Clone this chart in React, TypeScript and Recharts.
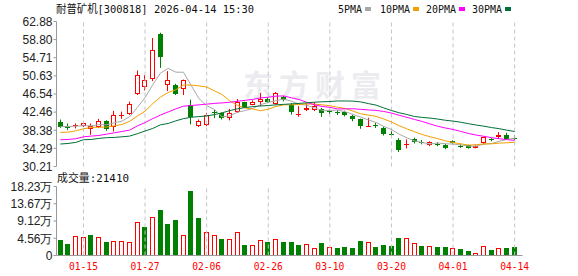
import React from 'react';
import { ComposedChart, Bar, Line, XAxis, YAxis, CartesianGrid, ReferenceLine } from 'recharts';

const dates = ['01-12','01-13','01-14','01-15','01-16','01-19','01-20','01-21','01-22','01-23','01-26','01-27','01-28','01-29','01-30','02-02','02-03','02-04','02-05','02-06','02-09','02-10','02-11','02-12','02-13','02-24','02-25','02-26','02-27','03-02','03-03','03-04','03-05','03-06','03-09','03-10','03-11','03-12','03-13','03-16','03-17','03-18','03-19','03-20','03-23','03-24','03-25','03-26','03-27','03-30','03-31','04-01','04-02','04-03','04-07','04-08','04-09','04-10','04-13','04-14'];

const opens = [40.34,39.3,39.3,39.3,38.55,39.15,40.49,39.0,41.54,41.99, 46.46,48.10,49.82,60.04,48.55,48.48,47.66,44.0,39.3,39.53, 42.5,42.29,41.17,42.51,44.67,44.15,44.75,45.5,44.3,45.87, 44.16,41.9,42.89,42.89,43.19,42.7,42.5,42.52,41.55,40.8, 39.2,39.5,38.94,37.5,36.1,35.1,36.47,35.8,35.13,35.3, 35.13,35.9,34.9,34.98,34.4,35.58,36.3,36.85,37.22,36.55];
const highs = [40.79,39.9,39.9,40.27,39.9,40.94,40.64,42.73,42.58,44.82, 51.84,50.79,59.15,60.34,51.69,48.85,49.8,45.27,40.8,42.3, 43.0,42.4,43.2,45.4,44.8,45.1,46.76,45.8,47.0,46.1, 44.5,43.8,44.5,44.68,43.4,43.0,42.8,42.8,41.9,41.0, 41.17,40.0,39.2,38.4,36.6,36.3,36.7,36.2,35.9,35.7, 35.3,36.1,35.2,35.1,35.0,36.9,36.6,37.96,37.8,37.3];
const lows = [38.92,38.4,38.78,39.15,37.36,38.85,38.25,38.1,40.94,41.84, 46.31,47.36,49.45,52.43,47.21,46.3,46.3,39.68,39.1,39.3, 41.1,40.8,40.6,42.3,43.5,44.0,43.78,44.5,44.15,44.9, 41.9,41.4,42.7,42.7,41.4,42.0,41.8,41.5,40.4,38.7, 39.1,38.9,37.2,37.0,33.5,34.3,35.4,35.2,34.8,34.8, 34.1,35.2,34.4,34.2,34.3,35.2,35.9,36.47,36.3,36.2];
const closes = [39.15,38.78,39.52,40.05,39.30,40.49,38.63,41.84,41.9,44.37, 50.79,49.75,56.39,54.97,49.75,46.47,49.6,41.4,40.35,41.77, 42.3,41.17,42.29,44.67,43.63,44.67,45.5,44.75,46.69,45.27, 42.44,42.1,43.48,43.93,42.29,42.5,42.3,41.77,40.8,39.31, 39.4,39.3,37.45,37.3,34.0,35.3,35.8,35.6,35.73,35.1, 34.46,35.4,34.7,34.38,34.9,36.85,36.1,37.22,36.47,36.4];
const prevCloseBefore = 40.1;

const ma5 = [39.2,39.2,39.3,39.4,39.36,39.63,39.60,40.06,40.43,41.44, 43.50,45.73,48.64,51.26,52.33,51.47,51.44,48.44,45.51,43.92, 43.08,41.40,41.58,42.44,42.81,43.29,44.15,44.64,45.05,45.38, 44.93,44.25,44.00,43.44,42.85,42.86,42.90,42.56,41.93,41.34, 40.72,40.12,39.25,38.55,37.49,36.67,35.97,35.60,35.29,35.51, 35.34,35.26,35.08,34.81,34.77,35.25,35.39,35.89,36.31,36.61];
const ma10 = [37.88,37.95,38.25,38.7,39.0,39.05,39.1,39.37,39.67,40.40, 41.57,42.67,44.36,45.85,46.89,47.49,48.59,48.54,48.38,48.12, 47.28,46.42,45.01,43.98,43.37,43.19,42.78,43.11,43.74,44.09, 44.11,44.20,44.32,44.25,44.11,43.90,43.58,43.28,42.69,42.09, 41.79,41.51,40.91,40.24,39.41,38.69,38.04,37.42,36.91,36.49, 36.00,35.61,35.33,35.02,35.13,35.29,35.32,35.48,35.56,35.69];
const ma20 = [36.24,36.3,36.46,36.9,37.06,37.2,37.5,37.8,38.1,38.4, 39.37,40.1,41.0,41.8,42.5,43.2,43.8,43.95,44.1,44.26, 44.42,44.54,44.68,44.91,45.12,45.33,45.68,45.82,46.06,46.11, 45.69,45.31,44.66,44.11,43.74,43.54,43.18,43.19,43.22,43.09, 42.95,42.85,42.61,42.25,41.76,41.29,40.81,40.35,39.80,39.29, 38.89,38.56,38.12,37.65,37.29,37.01,36.70,36.47,36.26,36.11];
const ma30 = [35.27,35.4,35.64,36.24,36.3,36.54,36.7,36.76,36.9,37.06, 37.6,38.2,38.78,39.6,39.9,40.5,41.0,41.3,41.45,41.6, 41.9,42.3,42.8,43.2,43.5,43.7,43.85,43.95,44.1,44.21, 44.31,44.43,44.56,44.69,44.79,44.85,44.98,44.97,44.94,44.77, 44.39,44.04,43.41,42.83,42.31,41.93,41.47,41.27,41.12,40.90, 40.63,40.44,40.19,39.85,39.56,39.29,38.98,38.73,38.39,38.09];

// volume in 万
const volumes = [4.0,2.94,5.25,4.8,5.34,4.8,3.47,3.91,3.91,3.47, 8.72,7.47,10.05,12.01,8.27,9.34,5.52,17.08,9.88,6.32, 5.52,4.27,4.27,6.32,2.67,2.67,4.18,3.47,4.27,3.47, 3.47,2.67,2.94,1.87,3.2,2.14,1.87,2.14,1.87,3.74, 3.47,2.14,2.67,2.4,4.54,4.54,3.2,2.4,2.4,2.14, 2.14,1.87,1.6,1.07,0.71,2.4,1.33,1.87,1.87,2.141];

const priceTicks = [30.21, 34.29, 38.38, 42.46, 46.54, 50.63, 54.71, 58.80, 62.88];
const volTicks = [0, 4.56, 9.12, 13.67, 18.23];
const dateTicks = ['01-15','01-27','02-06','02-26','03-10','03-20','04-01','04-14'];

const titleText = '耐普矿机[300818] 2026-04-14 15:30';
const volTitle = '成交量:21410';
const legendItems = [
  { name: '5PMA', color: '#a8a8a8' },
  { name: '10PMA', color: '#f0a000' },
  { name: '20PMA', color: '#ff00ff' },
  { name: '30PMA', color: '#00703a' },
];

const RED = '#ff0000';
const GREEN = '#008000';
const BORDER = '#999999';
const GRID = '#d4d4d4';
const VGRID = '#c4c4c4';
const MONO = "'DejaVu Sans Mono', 'Noto Sans CJK SC', monospace";
const SANS = "'Liberation Sans', Arial, sans-serif";

const data = dates.map((d, i) => ({
  date: d,
  open: opens[i],
  high: highs[i],
  low: lows[i],
  close: closes[i],
  range: [lows[i], highs[i]],
  ma5: ma5[i],
  ma10: ma10[i],
  ma20: ma20[i],
  ma30: ma30[i],
  vol: volumes[i],
  volUp: closes[i] >= (i === 0 ? prevCloseBefore : closes[i - 1]),
}));

const Candle = (props: any) => {
  const { x, y, width, height, payload } = props;
  if (x == null || y == null || !payload) return null;
  const top = Math.min(y, y + height);
  const h = Math.abs(height);
  const { open, close, high, low } = payload;
  const ratio = h / (high - low);
  const yOf = (v: number) => top + (high - v) * ratio;
  const col = Math.floor(x + width / 2);
  const up = close >= open;
  const color = up ? RED : GREEN;
  const bTop = Math.round(yOf(Math.max(open, close)));
  const bBot = Math.round(yOf(Math.min(open, close)));
  const bh = Math.max(1, bBot - bTop);
  return (
    <g>
      <line x1={col + 0.5} x2={col + 0.5} y1={top} y2={top + h} stroke={color} strokeWidth={1} />
      {up ? (
        bh <= 1 ? (
          <rect x={col - 2} y={bTop} width={5} height={1} fill={color} />
        ) : (
          <rect x={col - 1.5} y={bTop + 0.5} width={4} height={bh - 1} fill="#ffffff" stroke={color} strokeWidth={1} />
        )
      ) : (
        <rect x={col - 2} y={bTop} width={5} height={bh} fill={color} />
      )}
    </g>
  );
};

const VolBar = (props: any) => {
  const { x, y, width, height, payload } = props;
  if (x == null || y == null || !payload) return null;
  const top = Math.round(Math.min(y, y + height));
  const bottom = Math.round(Math.max(y, y + height));
  const col = Math.floor(x + width / 2);
  const h = Math.max(1, bottom - top);
  if (payload.volUp) {
    return <rect x={col - 1.5} y={top + 0.5} width={4} height={Math.max(0, h - 1)} fill="#ffffff" stroke={RED} strokeWidth={1} />;
  }
  return <rect x={col - 2} y={top} width={5} height={h} fill={GREEN} />;
};

const PriceTick = (props: any) => {
  const { x, y, payload } = props;
  return (
    <text x={x} y={y} dy={4.3} textAnchor="end" fontSize={12} fontFamily={SANS} fill="#222">
      {Number(payload.value).toFixed(2)}
    </text>
  );
};

const VolTick = (props: any) => {
  const { x, y, payload } = props;
  const v = Number(payload.value);
  return (
    <text x={x} y={y} dy={4.3} textAnchor="end" fontSize={12} fontFamily={SANS} fill="#222">
      {v === 0 ? '0' : v.toFixed(2) + '万'}
    </text>
  );
};

const DateTick = (props: any) => {
  const { x, y, payload } = props;
  return (
    <text x={x} y={y + 14} textAnchor="middle" fontSize={11} fontFamily={MONO} fill={RED} textLength={29} lengthAdjust="spacingAndGlyphs">
      {payload.value}
    </text>
  );
};

const hGen = (ticks: number[]) => (args: any) => {
  const ax = args && args.yAxis;
  if (!ax || typeof ax.scale !== 'function') return [];
  return ticks.map((t) => Math.round(ax.scale(t)) + 0.5);
};

const axisLine = { stroke: BORDER };

const vLines = () =>
  dateTicks.map((d) => (
    <ReferenceLine key={d} x={d} stroke={VGRID} strokeDasharray="4 3" strokeWidth={1} />
  ));

export default function App() {
  return (
    <div style={{ position: 'absolute', left: 0, top: 0, width: 578, height: 276, background: '#fff', overflow: 'hidden' }}>
      <svg width={578} height={276} style={{ position: 'absolute', left: 0, top: 0 }}>
        <text x={243} y={96} fontSize={30} fontWeight="bold" fill="#ececf0" fontFamily="'Noto Sans CJK SC'" letterSpacing={6}>东方财富</text>
        <text x={56} y={13} fontSize={11} fontFamily={MONO} fill="#111" textLength={198} lengthAdjust="spacingAndGlyphs">{titleText}</text>
        {legendItems.map((it, i) => {
          const xs = [338, 380, 426, 472][i];
          const tw = it.name.length * 6;
          return (
            <g key={it.name}>
              <text x={xs} y={13} fontSize={11} fontFamily={MONO} fill="#111" textLength={tw} lengthAdjust="spacingAndGlyphs">{it.name}</text>
              <rect x={xs + tw + 3} y={7} width={6} height={4} fill={it.color} />
            </g>
          );
        })}
        <text x={57} y={182} fontSize={11} fontFamily={MONO} fill="#111" textLength={72} lengthAdjust="spacingAndGlyphs">{volTitle}</text>
      </svg>
      <div style={{ position: 'absolute', left: 0, top: 0 }}>
        <ComposedChart width={578} height={178} data={data} margin={{ top: 21.5, right: 55.5, bottom: 11.5, left: 0 }}>
          <CartesianGrid vertical={false} stroke={GRID} horizontalCoordinatesGenerator={hGen(priceTicks)} />
          <XAxis dataKey="date" ticks={dateTicks} interval={0} height={0} tick={false} tickLine={false} axisLine={axisLine} padding={{ left: 0, right: 4 }} />
          <XAxis xAxisId="top" orientation="top" dataKey="date" height={0} tick={false} tickLine={false} axisLine={axisLine} padding={{ left: 0, right: 4 }} />
          <YAxis domain={[30.21, 62.88]} ticks={priceTicks} interval={0} width={56.5} tickSize={3} tickMargin={1} tickLine={axisLine} axisLine={axisLine} tick={<PriceTick />} allowDataOverflow />
          <YAxis yAxisId="r" orientation="right" domain={[30.21, 62.88]} width={0} tick={false} tickLine={false} axisLine={axisLine} />
          {vLines()}
          <Bar dataKey="range" shape={<Candle />} barSize={5} isAnimationActive={false} />
          <Line dataKey="ma5" stroke={legendItems[0].color} strokeWidth={1} dot={false} activeDot={false} type="linear" isAnimationActive={false} />
          <Line dataKey="ma10" stroke={legendItems[1].color} strokeWidth={1} dot={false} activeDot={false} type="linear" isAnimationActive={false} />
          <Line dataKey="ma20" stroke={legendItems[2].color} strokeWidth={1} dot={false} activeDot={false} type="linear" isAnimationActive={false} />
          <Line dataKey="ma30" stroke={legendItems[3].color} strokeWidth={1} dot={false} activeDot={false} type="linear" isAnimationActive={false} />
        </ComposedChart>
      </div>
      <div style={{ position: 'absolute', left: 0, top: 170 }}>
        <ComposedChart width={578} height={106} data={data} margin={{ top: 16.5, right: 55.5, bottom: 0, left: 0 }}>
          <CartesianGrid vertical={false} stroke={GRID} horizontalCoordinatesGenerator={hGen(volTicks)} />
          <XAxis dataKey="date" ticks={dateTicks} interval={0} height={20.5} tickSize={0} tickMargin={0} tickLine={false} axisLine={axisLine} tick={<DateTick />} padding={{ left: 0, right: 4 }} />
          <XAxis xAxisId="top" orientation="top" dataKey="date" height={0} tick={false} tickLine={false} axisLine={axisLine} padding={{ left: 0, right: 4 }} />
          <YAxis domain={[0, 18.23]} ticks={volTicks} interval={0} width={56.5} tickSize={3} tickMargin={1} tickLine={axisLine} axisLine={axisLine} tick={<VolTick />} allowDataOverflow />
          <YAxis yAxisId="r" orientation="right" domain={[0, 18.23]} width={0} tick={false} tickLine={false} axisLine={axisLine} />
          {vLines()}
          <Bar dataKey="vol" shape={<VolBar />} barSize={5} isAnimationActive={false} />
        </ComposedChart>
      </div>
    </div>
  );
}
